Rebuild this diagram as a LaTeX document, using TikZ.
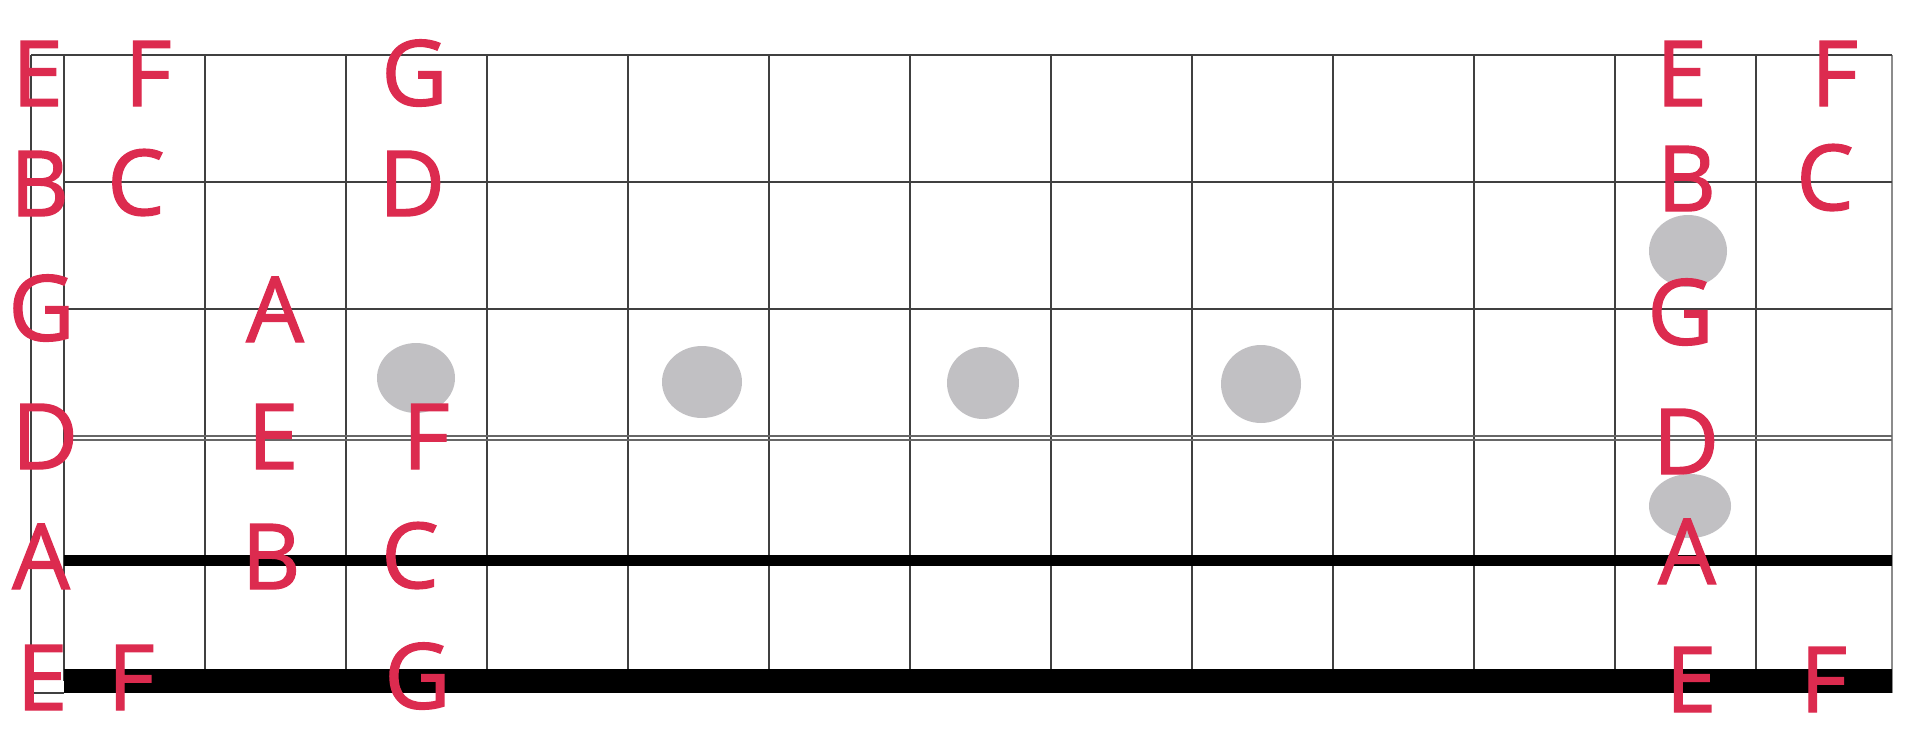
\documentclass[tikz,border=0pt]{standalone}
\usepackage{fontspec}
\setmainfont{Open Sans}[FakeBold=1.5]
\definecolor{notered}{HTML}{DC2B4F}
\definecolor{dotgray}{HTML}{C1C0C3}
\begin{document}
\begin{tikzpicture}[x=1pt,y=-1pt,
  note/.style={text=notered, font=\fontsize{91}{91}\selectfont, inner sep=0pt, anchor=base},
  fretline/.style={line width=1.3pt, draw=black!75},
  thinline/.style={line width=1.3pt, draw=black!60},
  inlay/.style={fill=dotgray, draw=none}]
\useasboundingbox (0,0) rectangle (1920,732);
% vertical frets
\foreach \k in {0,...,12}{
  \draw[fretline] ({64+141*\k},55) -- ({64+141*\k},681);
}
\draw[fretline] (31,55) -- (31,693) -- (64,693);
\draw[thinline, draw=black!45, line width=2pt] (1892,55) -- (1892,693);
% horizontal strings
\draw[fretline] (31,55) -- (1892,55);
\draw[fretline] (64,182) -- (1892,182);
\draw[fretline] (64,309) -- (1892,309);
\draw[thinline] (64,436) -- (1892,436);
\draw[thinline] (64,440) -- (1892,440);
\draw[line width=11pt] (64,560.5) -- (1892,560.5);
\draw[line width=24pt] (64,681) -- (1892,681);
% inlays
\fill[inlay] (416,378) ellipse [x radius=39pt, y radius=35pt];
\fill[inlay] (702,382) ellipse [x radius=40pt, y radius=36pt];
\fill[inlay] (983,383) ellipse [x radius=36pt, y radius=36pt];
\fill[inlay] (1261,384) ellipse [x radius=40pt, y radius=39pt];
\fill[inlay] (1688,251) ellipse [x radius=39pt, y radius=36pt];
\fill[inlay] (1690,506) ellipse [x radius=41pt, y radius=32pt];
% notes, left
\node[note] (e1) at (37.5,106) {E};
\node[note] (f1) at (148,106) {F};
\node[note] (g1) at (414.5,105.5) {G};
\node[note] (b2) at (39.5,216) {B};
\node[note] (c2) at (136,215) {C};
\node[note] (d2) at (412,216) {D};
\node[note] (g3) at (41.5,340.5) {G};
\node[note] (a3) at (275,342) {A};
\node[note] (d4) at (45,469) {D};
\node[note] (e4) at (273,469) {E};
\node[note] (f4) at (426,469) {F};
\node[note] (a5) at (41,589) {A};
\node[note] (b5) at (271,589) {B};
\node[note] (c5) at (410,588) {C};
\node[note] (e6) at (42,710) {E};
\node[note] (f6) at (131,710) {F};
\node[note] (g6) at (417.5,708.5) {G};
% notes, right
\node[note] (e1r) at (1681.5,106) {E};
\node[note] (f1r) at (1834.5,106) {F};
\node[note] (b2r) at (1686.5,211) {B};
\node[note] (c2r) at (1825,210) {C};
\node[note] (g3r) at (1680.5,344.5) {G};
\node[note] (d4r) at (1686,474) {D};
\node[note] (a5r) at (1687,584) {A};
\node[note] (e6r) at (1691,712) {E};
\node[note] (f6r) at (1823.5,712) {F};
\end{tikzpicture}
\end{document}
